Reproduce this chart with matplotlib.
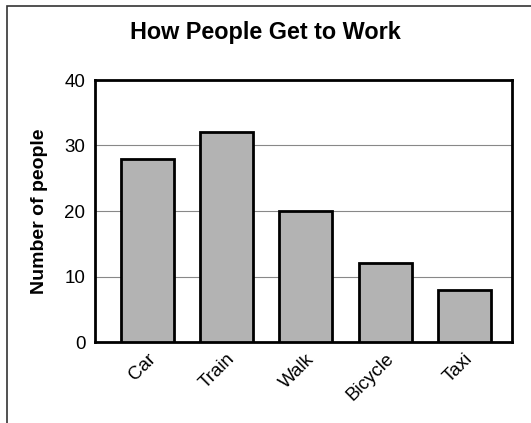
import matplotlib
matplotlib.use("Agg")
import matplotlib.pyplot as plt
from matplotlib.patches import Rectangle

modes = ["Car", "Train", "Walk", "Bicycle", "Taxi"]
people = [28, 32, 20, 12, 8]
y_ticks = [0, 10, 20, 30, 40]

plt.rcParams["font.family"] = ["Liberation Sans", "DejaVu Sans"]

fig = plt.figure(figsize=(5.31, 4.23), dpi=100)
ax = fig.add_axes([95 / 531, 81 / 423, 417 / 531, 262 / 423])

# outer frame of the worksheet box (runs off the right and bottom edges)
fig.patches.append(Rectangle((7 / 531, -0.05), 1.0, 1 - 6 / 423 + 0.05,
                             transform=fig.transFigure, fill=False,
                             edgecolor="#333333", linewidth=1.2))

x = range(len(modes))
ax.bar(x, people, width=0.67, color="#b3b3b3", edgecolor="black",
       linewidth=2, zorder=3)

ax.set_xlim(-0.66, 4.6)
ax.set_ylim(0, 40)
ax.set_yticks(y_ticks)
ax.set_yticklabels([str(t) for t in y_ticks], fontsize=13.5)
ax.set_xticks(list(x))
ax.set_xticklabels(modes, rotation=45, ha="right", rotation_mode="anchor",
                   fontsize=13.5)
ax.tick_params(axis="y", length=0, pad=7)
ax.tick_params(axis="x", length=0, pad=6)
ax.yaxis.grid(True, color="#888888", linewidth=0.8, zorder=0)
for s in ax.spines.values():
    s.set_linewidth(2)

ax.set_ylabel("Number of people", fontsize=14, fontweight="bold", labelpad=12)
fig.text(0.5, 1 - 33 / 423, "How People Get to Work", ha="center",
         va="center", fontsize=16.8, fontweight="bold")

fig.savefig("out.png", dpi=100)
